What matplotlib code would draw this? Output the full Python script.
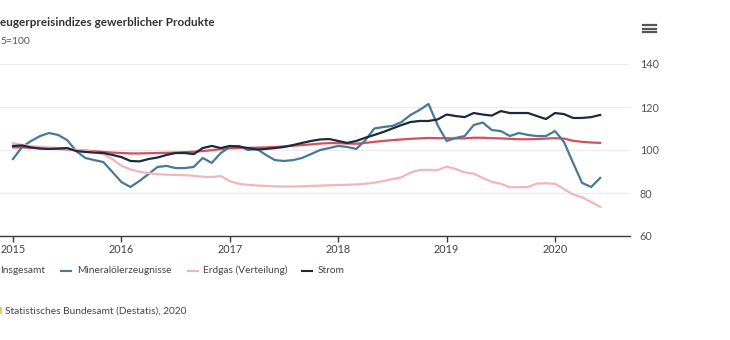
import matplotlib
matplotlib.use("Agg")
import matplotlib.pyplot as plt
from matplotlib.lines import Line2D
from matplotlib.patches import Rectangle
import numpy as np

plt.rcParams['font.family'] = ['Lato', 'DejaVu Sans']

# Monthly index values, Jan 2015 - Jun 2020 (2015 = 100)
start_year = 2015
insgesamt = [
    101.2, 101.2, 101.0, 100.8, 100.6, 100.5, 100.3, 100.0, 99.7, 99.4, 99.1, 98.8,
    98.6, 98.4, 98.4, 98.5, 98.6, 98.7, 98.8, 99.0, 99.2, 99.5, 99.9, 100.4,
    100.8, 101.0, 101.0, 101.1, 101.2, 101.4, 101.7, 102.0, 102.3, 102.6, 103.0, 103.2,
    103.2, 103.0, 102.9, 103.3, 103.8, 104.2, 104.6, 104.9, 105.2, 105.4, 105.6, 105.5,
    105.5, 105.4, 105.4, 105.7, 105.7, 105.5, 105.4, 105.2, 105.0, 105.0, 105.1, 105.3,
    105.5, 105.3, 104.3, 103.8, 103.5, 103.3,
]
mineraloel = [
    95.8, 101.4, 104.2, 106.5, 107.9, 107.0, 104.6, 99.5, 96.3, 95.3, 94.4, 89.8,
    85.1, 82.8, 85.6, 88.8, 92.1, 92.6, 91.6, 91.6, 92.1, 96.3, 94.0, 98.6,
    101.4, 101.9, 100.0, 100.5, 97.7, 95.3, 94.9, 95.3, 96.3, 98.1, 100.0, 100.9,
    101.9, 101.4, 100.5, 104.5, 110.0, 110.7, 111.2, 113.0, 116.3, 118.6, 121.4, 111.6,
    104.2, 105.6, 106.5, 111.6, 112.8, 109.3, 108.8, 106.5, 107.9, 107.0, 106.5, 106.5,
    108.8, 103.7, 94.0, 84.7, 82.8, 87.0,
]
erdgas = [
    103.2, 102.4, 101.8, 101.5, 101.2, 100.9, 100.6, 100.1, 99.6, 99.0, 98.0, 95.8,
    92.6, 91.0, 89.9, 89.2, 88.8, 88.5, 88.4, 88.3, 88.0, 87.6, 87.4, 87.9,
    85.5, 84.3, 83.8, 83.5, 83.3, 83.1, 83.0, 83.0, 83.1, 83.3, 83.4, 83.6,
    83.7, 83.8, 84.0, 84.3, 84.8, 85.6, 86.5, 87.3, 89.5, 90.7, 90.8, 90.6,
    92.3, 91.2, 89.6, 89.0, 87.0, 85.2, 84.3, 82.7, 82.7, 82.8, 84.4, 84.5,
    84.3, 81.8, 79.3, 78.0, 75.8, 73.6,
]
strom = [
    101.9, 102.1, 101.2, 100.7, 100.5, 100.7, 100.9, 99.5, 99.1, 98.8, 98.6, 97.7,
    96.7, 94.9, 94.7, 95.8, 96.5, 97.7, 98.6, 98.6, 98.1, 100.9, 101.9, 100.9,
    101.9, 101.6, 100.9, 100.2, 100.5, 100.9, 101.4, 102.3, 103.3, 104.2, 104.9, 105.1,
    104.2, 103.3, 104.2, 105.7, 107.0, 108.4, 110.0, 111.6, 113.0, 113.5, 113.5, 114.2,
    116.5, 115.8, 115.3, 117.2, 116.5, 116.0, 118.1, 117.2, 117.2, 117.2, 115.8, 114.4,
    117.2, 116.7, 114.9, 114.9, 115.3, 116.3,
]

series_names = ["Insgesamt", "Mineralölerzeugnisse", "Erdgas (Verteilung)", "Strom"]
series_values = [insgesamt, mineraloel, erdgas, strom]
series_colors = ["#d4505c", "#46799a", "#f2b6ba", "#1c2a3c"]

year_ticks = [2015, 2016, 2017, 2018, 2019, 2020]
y_ticks = [60, 80, 100, 120, 140]

title = "eugerpreisindizes gewerblicher Produkte"
subtitle = "5=100"
source = "Statistisches Bundesamt (Destatis), 2020"

W, H = 730, 340
fig = plt.figure(figsize=(W / 100, H / 100), dpi=100)
fig.patch.set_facecolor("white")


def fx(px):
    return px / W


def fy(py):
    return 1 - py / H


ax = fig.add_axes([fx(0), fy(236), fx(630), fy(64) - fy(236)])
ax.set_facecolor("white")

months = np.arange(len(insgesamt))
xs = start_year + months / 12.0
for name, vals, col in zip(series_names, series_values, series_colors):
    ax.plot(xs, vals, color=col, lw=1.6, solid_joinstyle="round", label=name)

px_per_year = (555 - 13) / 5.0
ax.set_xlim(2015 - 13 / px_per_year, 2015 + (630 - 13) / px_per_year)
ax.set_ylim(60, 140)

for s in ["top", "left", "right"]:
    ax.spines[s].set_visible(False)
ax.spines["bottom"].set_color("#3a3a3a")
ax.spines["bottom"].set_linewidth(1.0)

ax.set_xticks(year_ticks)
ax.set_xticklabels([str(y) for y in year_ticks])
ax.tick_params(axis="x", length=4, width=1, color="#3a3a3a", labelsize=7.8,
               labelcolor="#444444", pad=2)

ax.yaxis.tick_right()
ax.set_yticks(y_ticks)
ax.set_yticklabels([str(v) for v in y_ticks])
ax.tick_params(axis="y", length=0, labelsize=7.8, labelcolor="#555555", pad=7)
ax.grid(axis="y", color="#ececec", lw=0.9)
ax.set_axisbelow(True)

# Title and subtitle
fig.text(fx(0), fy(22), title, ha="left", va="center", fontsize=8.5,
         fontweight="bold", color="#333333")
fig.text(fx(0), fy(41), subtitle, ha="left", va="center", fontsize=7.5,
         color="#555555")

# Menu icon
for yy in (25, 28.5, 32):
    fig.add_artist(Line2D([fx(643), fx(656)], [fy(yy), fy(yy)], color="#555555",
                          lw=1.6, transform=fig.transFigure))

# Legend
legend_pos = [(None, 0), (61, 77), (188, 203), (302, 318)]
for (lx, tx), name, col in zip(legend_pos, series_names, series_colors):
    if lx is not None:
        fig.add_artist(Line2D([fx(lx), fx(lx + 10)], [fy(270.5), fy(270.5)],
                              color=col, lw=1.5, transform=fig.transFigure))
    fig.text(fx(tx), fy(270.5), name, ha="left", va="center", fontsize=7.3,
             color="#444444")

# Source
fig.add_artist(Rectangle((fx(0), fy(314)), fx(2), fy(307) - fy(314),
                         transform=fig.transFigure, color="#f0c860", lw=0))
fig.text(fx(5), fy(311), source, ha="left", va="center", fontsize=7.3,
         color="#444444")

fig.savefig("out.png", dpi=100, facecolor="white")
